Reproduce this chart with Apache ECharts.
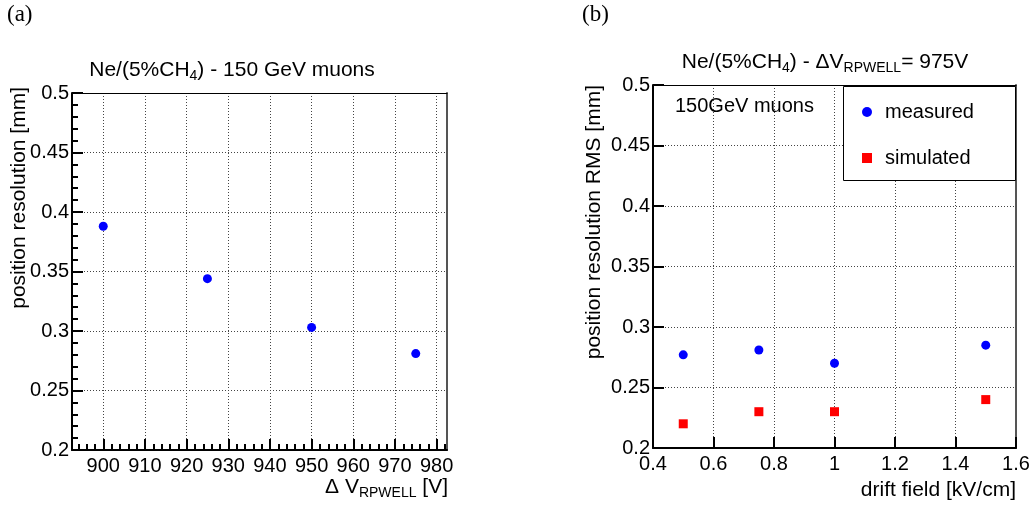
<!DOCTYPE html>
<html>
<head>
<meta charset="utf-8">
<script src="https://cdn.jsdelivr.net/npm/echarts@6/dist/echarts.min.js"></script>
<style>
  html, body { margin: 0; padding: 0; background: #fff; }
  #chart { width: 1034px; height: 506px; }
</style>
</head>
<body>
<div id="chart"></div>
<script>
// panel (a): resolution vs RPWELL voltage
const voltage = [900, 925, 950, 975];
const resolution = [0.388, 0.344, 0.303, 0.281];
const voltageTicks = [900, 910, 920, 930, 940, 950, 960, 970, 980];

// panel (b): resolution vs drift field
const driftField = [0.5, 0.75, 1.0, 1.5];
const measured = [0.277, 0.281, 0.270, 0.285];
const simulated = [0.220, 0.230, 0.230, 0.240];

const minorVoltage = [];
for (let v = 894; v <= 982; v += 2) if (v % 10 !== 0) minorVoltage.push(v);

const FONT = 'Liberation Sans';
const labelStyle = () => ({ color: '#000', fontFamily: FONT, fontSize: 20 });
const gridLine = () => ({ show: true, lineStyle: { color: '#444', type: [1, 2], width: 1 } });
const axisLine = () => ({ show: true, lineStyle: { color: '#000', width: 2 } });
const tickLine = () => ({ color: '#000', width: 2 });
const sub = { fontSize: 14, fontFamily: FONT, color: '#000', padding: [12, 0, 0, 0] };

// plain frame edge (top / right) for a grid
const frameX = (g, min, max) => ({
  gridIndex: g, type: 'value', min, max, position: 'top',
  axisLine: { show: true, lineStyle: { color: '#000', width: 1 } },
  axisTick: { show: false }, axisLabel: { show: false }, splitLine: { show: false }
});
const frameY = (g, min, max) => ({
  gridIndex: g, type: 'value', min, max, position: 'right',
  axisLine: { show: true, lineStyle: { color: '#555', width: 2 } },
  axisTick: { show: false }, axisLabel: { show: false }, splitLine: { show: false }
});

const chart = echarts.init(document.getElementById('chart'));
chart.setOption({
  animation: false,
  title: [
    {
      text: 'Ne/(5%CH{s|4}) - 150 GeV muons', left: 227, top: 52, textAlign: 'center',
      textStyle: { fontFamily: FONT, fontSize: 21, fontWeight: 'normal', color: '#000', rich: { s: sub } }
    },
    {
      text: 'Ne/(5%CH{s|4}) - ΔV{s|RPWELL}= 975V', left: 820, top: 44, textAlign: 'center',
      textStyle: { fontFamily: FONT, fontSize: 21, fontWeight: 'normal', color: '#000', rich: { s: sub } }
    }
  ],
  grid: [
    { left: 72, top: 93, width: 375, height: 357 },
    { left: 653, top: 85, width: 363, height: 363 }
  ],
  legend: {
    left: 857, top: 97, orient: 'vertical', itemGap: 26, itemWidth: 10, itemHeight: 10, z: 6,
    textStyle: { fontFamily: FONT, fontSize: 20, color: '#000', padding: [0, 0, 0, 8] },
    data: [{ name: 'measured', icon: 'circle' }, { name: 'simulated', icon: 'rect' }]
  },
  xAxis: [
    {
      gridIndex: 0, type: 'value', min: 892.5, max: 982.5, position: 'bottom',
      axisLine: axisLine(),
      axisTick: { show: true, inside: true, length: 11, customValues: voltageTicks, lineStyle: tickLine() },
      axisLabel: Object.assign({ margin: 6, customValues: voltageTicks }, labelStyle()),
      splitLine: gridLine()
    },
    {
      gridIndex: 0, type: 'value', min: 892.5, max: 982.5, position: 'bottom', offset: 0,
      axisLine: { show: false },
      axisTick: { show: true, inside: true, length: 6, customValues: minorVoltage, lineStyle: tickLine() },
      axisLabel: { show: false },
      splitLine: { show: false }
    },
    frameX(0, 892.5, 982.5),
    {
      gridIndex: 1, type: 'value', min: 0.4, max: 1.6, interval: 0.2, position: 'bottom',
      axisLine: axisLine(),
      axisTick: { show: true, inside: true, length: 11, lineStyle: tickLine() },
      axisLabel: Object.assign({ margin: 6 }, labelStyle()),
      splitLine: gridLine()
    },
    frameX(1, 0.4, 1.6)
  ],
  yAxis: [
    {
      gridIndex: 0, type: 'value', min: 0.2, max: 0.5, interval: 0.05, position: 'left',
      axisLine: axisLine(),
      axisTick: { show: true, inside: true, length: 11, lineStyle: tickLine() },
      minorTick: { show: true, splitNumber: 5, length: 6, lineStyle: tickLine() },
      axisLabel: Object.assign({ margin: 3 }, labelStyle()),
      splitLine: gridLine()
    },
    frameY(0, 0.2, 0.5),
    {
      gridIndex: 1, type: 'value', min: 0.2, max: 0.5, interval: 0.05, position: 'left',
      axisLine: axisLine(),
      axisTick: { show: true, inside: true, length: 11, lineStyle: tickLine() },
      axisLabel: Object.assign({ margin: 3 }, labelStyle()),
      splitLine: gridLine()
    },
    frameY(1, 0.2, 0.5)
  ],
  graphic: [
    { type: 'text', left: 7, top: 3, style: { text: '(a)', font: '23px "Liberation Serif"', fill: '#000' } },
    { type: 'text', left: 582, top: 3, style: { text: '(b)', font: '23px "Liberation Serif"', fill: '#000' } },
    {
      type: 'text', x: 448, y: 474,
      style: {
        text: 'Δ V{s|RPWELL} [V]', align: 'right', fill: '#000',
        font: '21px "Liberation Sans"', rich: { s: sub }
      }
    },
    { type: 'text', x: 1016, y: 480, style: { text: 'drift field [kV/cm]', align: 'right', fill: '#000', font: '21px "Liberation Sans"' } },
    { type: 'text', x: 9, y: 87, rotation: Math.PI / 2, style: { text: 'position resolution [mm]', align: 'right', fill: '#000', font: '21px "Liberation Sans"' } },
    { type: 'text', x: 584, y: 85, rotation: Math.PI / 2, style: { text: 'position resolution RMS [mm]', align: 'right', fill: '#000', font: '21px "Liberation Sans"' } },
    { type: 'text', x: 675, y: 96, style: { text: '150GeV muons', fill: '#000', font: '20px "Liberation Sans"' } },
    { type: 'rect', z: 3, shape: { x: 843.5, y: 86.5, width: 172, height: 94 }, style: { fill: '#fff', stroke: '#000', lineWidth: 1 } }
  ],
  series: [
    {
      name: 'resolution', type: 'scatter', xAxisIndex: 0, yAxisIndex: 0,
      symbol: 'circle', symbolSize: 9, itemStyle: { color: '#0000ff', opacity: 1 },
      data: voltage.map((v, i) => [v, resolution[i]])
    },
    {
      name: 'measured', type: 'scatter', xAxisIndex: 3, yAxisIndex: 2,
      symbol: 'circle', symbolSize: 9, itemStyle: { color: '#0000ff', opacity: 1 },
      data: driftField.map((v, i) => [v, measured[i]])
    },
    {
      name: 'simulated', type: 'scatter', xAxisIndex: 3, yAxisIndex: 2,
      symbol: 'rect', symbolSize: 9, itemStyle: { color: '#ff0000', opacity: 1 },
      data: driftField.map((v, i) => [v, simulated[i]])
    }
  ]
});
</script>
</body>
</html>
